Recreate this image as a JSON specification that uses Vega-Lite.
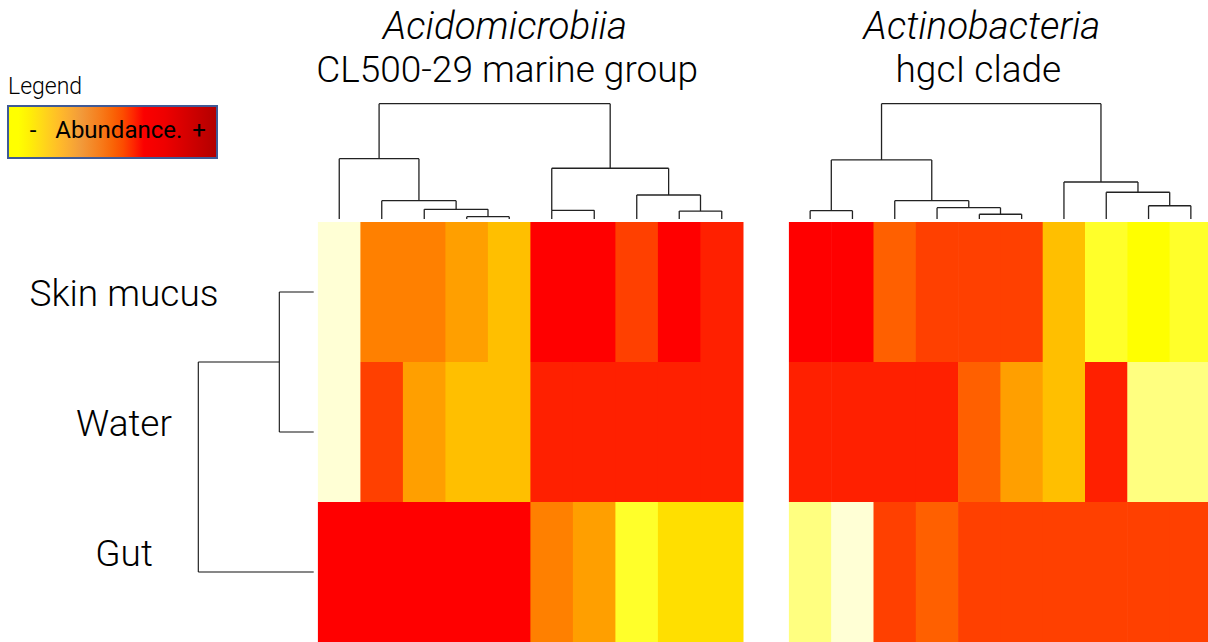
{
  "$schema": "https://vega.github.io/schema/vega-lite/v6.json",
  "width": 1208,
  "height": 642,
  "autosize": "none",
  "padding": 0,
  "background": "white",
  "config": {"axis": {"disable": true}, "view": {"stroke": null}, "font": "Roboto"},
  "datasets": {
    "heatL": [
      {"sample": "Skin mucus", "otu": 1, "level": 1}, {"sample": "Skin mucus", "otu": 2, "level": 8}, {"sample": "Skin mucus", "otu": 3, "level": 8}, {"sample": "Skin mucus", "otu": 4, "level": 7}, {"sample": "Skin mucus", "otu": 5, "level": 6},
      {"sample": "Skin mucus", "otu": 6, "level": 12}, {"sample": "Skin mucus", "otu": 7, "level": 12}, {"sample": "Skin mucus", "otu": 8, "level": 10}, {"sample": "Skin mucus", "otu": 9, "level": 12}, {"sample": "Skin mucus", "otu": 10, "level": 11},
      {"sample": "Water", "otu": 1, "level": 1}, {"sample": "Water", "otu": 2, "level": 10}, {"sample": "Water", "otu": 3, "level": 7}, {"sample": "Water", "otu": 4, "level": 6}, {"sample": "Water", "otu": 5, "level": 6},
      {"sample": "Water", "otu": 6, "level": 11}, {"sample": "Water", "otu": 7, "level": 11}, {"sample": "Water", "otu": 8, "level": 11}, {"sample": "Water", "otu": 9, "level": 11}, {"sample": "Water", "otu": 10, "level": 11},
      {"sample": "Gut", "otu": 1, "level": 12}, {"sample": "Gut", "otu": 2, "level": 12}, {"sample": "Gut", "otu": 3, "level": 12}, {"sample": "Gut", "otu": 4, "level": 12}, {"sample": "Gut", "otu": 5, "level": 12},
      {"sample": "Gut", "otu": 6, "level": 8}, {"sample": "Gut", "otu": 7, "level": 7}, {"sample": "Gut", "otu": 8, "level": 3}, {"sample": "Gut", "otu": 9, "level": 5}, {"sample": "Gut", "otu": 10, "level": 5}
    ],
    "heatR": [
      {"sample": "Skin mucus", "otu": 1, "level": 12}, {"sample": "Skin mucus", "otu": 2, "level": 12}, {"sample": "Skin mucus", "otu": 3, "level": 9}, {"sample": "Skin mucus", "otu": 4, "level": 10}, {"sample": "Skin mucus", "otu": 5, "level": 10},
      {"sample": "Skin mucus", "otu": 6, "level": 10}, {"sample": "Skin mucus", "otu": 7, "level": 6}, {"sample": "Skin mucus", "otu": 8, "level": 3}, {"sample": "Skin mucus", "otu": 9, "level": 4}, {"sample": "Skin mucus", "otu": 10, "level": 3},
      {"sample": "Water", "otu": 1, "level": 11}, {"sample": "Water", "otu": 2, "level": 11}, {"sample": "Water", "otu": 3, "level": 11}, {"sample": "Water", "otu": 4, "level": 11}, {"sample": "Water", "otu": 5, "level": 9},
      {"sample": "Water", "otu": 6, "level": 7}, {"sample": "Water", "otu": 7, "level": 6}, {"sample": "Water", "otu": 8, "level": 11}, {"sample": "Water", "otu": 9, "level": 2}, {"sample": "Water", "otu": 10, "level": 2},
      {"sample": "Gut", "otu": 1, "level": 2}, {"sample": "Gut", "otu": 2, "level": 1}, {"sample": "Gut", "otu": 3, "level": 10}, {"sample": "Gut", "otu": 4, "level": 9}, {"sample": "Gut", "otu": 5, "level": 10},
      {"sample": "Gut", "otu": 6, "level": 10}, {"sample": "Gut", "otu": 7, "level": 10}, {"sample": "Gut", "otu": 8, "level": 10}, {"sample": "Gut", "otu": 9, "level": 10}, {"sample": "Gut", "otu": 10, "level": 10}
    ],
    "dendroL": [
      {"node": "D", "lx": 3.5, "lh": 0, "rx": 4.5, "rh": 0, "h": 0.02},
      {"node": "C", "lx": 2.5, "lh": 0, "rx": 4.0, "rh": 0.02, "h": 0.084},
      {"node": "B", "lx": 1.5, "lh": 0, "rx": 3.25, "rh": 0.084, "h": 0.159},
      {"node": "A", "lx": 0.5, "lh": 0, "rx": 2.375, "rh": 0.159, "h": 0.523},
      {"node": "E", "lx": 5.5, "lh": 0, "rx": 6.5, "rh": 0, "h": 0.075},
      {"node": "G", "lx": 8.5, "lh": 0, "rx": 9.5, "rh": 0, "h": 0.069},
      {"node": "F", "lx": 7.5, "lh": 0, "rx": 9.0, "rh": 0.069, "h": 0.208},
      {"node": "R1", "lx": 5.5, "lh": 0.075, "rx": 8.25, "rh": 0.208, "h": 0.44},
      {"node": "root", "lx": 1.4375, "lh": 0.523, "rx": 6.875, "rh": 0.44, "h": 1.0}
    ],
    "dendroR": [
      {"node": "a", "lx": 0.5, "lh": 0, "rx": 1.5, "rh": 0, "h": 0.072},
      {"node": "d", "lx": 4.5, "lh": 0, "rx": 5.5, "rh": 0, "h": 0.041},
      {"node": "c", "lx": 3.5, "lh": 0, "rx": 5.0, "rh": 0.041, "h": 0.098},
      {"node": "b", "lx": 2.5, "lh": 0, "rx": 4.25, "rh": 0.098, "h": 0.159},
      {"node": "L", "lx": 1.0, "lh": 0.072, "rx": 3.375, "rh": 0.159, "h": 0.512},
      {"node": "g", "lx": 8.5, "lh": 0, "rx": 9.5, "rh": 0, "h": 0.115},
      {"node": "f", "lx": 7.5, "lh": 0, "rx": 9.0, "rh": 0.115, "h": 0.232},
      {"node": "e", "lx": 6.5, "lh": 0, "rx": 8.25, "rh": 0.232, "h": 0.321},
      {"node": "root", "lx": 2.1875, "lh": 0.512, "rx": 7.375, "rh": 0.321, "h": 1.0}
    ],
    "dendroRow": [
      {"node": "inner", "lpos": 0.5, "lh": 0, "rpos": 1.5, "rh": 0, "h": 0.298},
      {"node": "outer", "lpos": 1.0, "lh": 0.298, "rpos": 2.5, "rh": 0, "h": 1.0}
    ],
    "samples": [
      {"sample": "Skin mucus"}, {"sample": "Water"}, {"sample": "Gut"}
    ],
    "legendRange": [
      {"abundance": 0}, {"abundance": 1}
    ]
  },
  "resolve": {"scale": {"x": "independent", "y": "independent"}},
  "layer": [
    {
      "data": {"name": "heatL"},
      "mark": {"type": "rect", "binSpacing": 0, "strokeWidth": 0, "x2Offset": -0.6},
      "encoding": {
        "x": {"field": "otu", "type": "quantitative", "bin": {"binned": true, "step": 1}, "axis": null, "scale": {"domain": [-6.48235, 21.94118], "nice": false, "zero": false}},
        "y": {"field": "sample", "type": "ordinal", "axis": null, "scale": {"type": "band", "domain": ["Skin mucus", "Water", "Gut"], "paddingInner": 0, "paddingOuter": 0.79286, "align": 1, "round": false}},
        "fill": {"field": "level", "type": "ordinal", "legend": null, "scale": {"domain": [1,2,3,4,5,6,7,8,9,10,11,12], "range": ["#FFFFD5","#FFFF80","#FFFF2A","#FFFF00","#FFDF00","#FFBF00","#FF9F00","#FF8000","#FF6000","#FF4000","#FF2000","#FF0000"]}}
      }
    },
    {
      "data": {"name": "heatR"},
      "mark": {"type": "rect", "binSpacing": 0, "strokeWidth": 0, "x2Offset": -0.6},
      "encoding": {
        "x": {"field": "otu", "type": "quantitative", "bin": {"binned": true, "step": 1}, "axis": null, "scale": {"domain": [-17.6525, 10.9054], "nice": false, "zero": false}},
        "y": {"field": "sample", "type": "ordinal", "axis": null, "scale": {"type": "band", "domain": ["Skin mucus", "Water", "Gut"], "paddingInner": 0, "paddingOuter": 0.79286, "align": 1, "round": false}},
        "fill": {"field": "level", "type": "ordinal", "legend": null}
      }
    },
    {
      "data": {"name": "dendroL"},
      "layer": [
        {"mark": {"type": "rule", "color": "#222222", "strokeWidth": 1.3},
         "encoding": {"x": {"field": "lx", "type": "quantitative"}, "x2": {"field": "rx"}, "y": {"field": "h", "type": "quantitative"}}},
        {"mark": {"type": "rule", "color": "#222222", "strokeWidth": 1.3},
         "encoding": {"x": {"field": "lx", "type": "quantitative"}, "y": {"field": "lh", "type": "quantitative"}, "y2": {"field": "h"}}},
        {"mark": {"type": "rule", "color": "#222222", "strokeWidth": 1.3},
         "encoding": {"x": {"field": "rx", "type": "quantitative"}, "y": {"field": "rh", "type": "quantitative"}, "y2": {"field": "h"}}}
      ],
      "encoding": {
        "x": {"type": "quantitative", "axis": null, "scale": {"domain": [-7.48235, 20.94118], "nice": false, "zero": false}},
        "y": {"type": "quantitative", "axis": null, "scale": {"domain": [-3.6687, 1.8994], "nice": false, "zero": false}}
      },
      "resolve": {"scale": {"x": "shared", "y": "shared"}}
    },
    {
      "data": {"name": "dendroR"},
      "layer": [
        {"mark": {"type": "rule", "color": "#222222", "strokeWidth": 1.3},
         "encoding": {"x": {"field": "lx", "type": "quantitative"}, "x2": {"field": "rx"}, "y": {"field": "h", "type": "quantitative"}}},
        {"mark": {"type": "rule", "color": "#222222", "strokeWidth": 1.3},
         "encoding": {"x": {"field": "lx", "type": "quantitative"}, "y": {"field": "lh", "type": "quantitative"}, "y2": {"field": "h"}}},
        {"mark": {"type": "rule", "color": "#222222", "strokeWidth": 1.3},
         "encoding": {"x": {"field": "rx", "type": "quantitative"}, "y": {"field": "rh", "type": "quantitative"}, "y2": {"field": "h"}}}
      ],
      "encoding": {
        "x": {"type": "quantitative", "axis": null, "scale": {"domain": [-18.6525, 9.9054], "nice": false, "zero": false}},
        "y": {"type": "quantitative", "axis": null, "scale": {"domain": [-3.6687, 1.8994], "nice": false, "zero": false}}
      },
      "resolve": {"scale": {"x": "shared", "y": "shared"}}
    },
    {
      "data": {"name": "dendroRow"},
      "layer": [
        {"mark": {"type": "rule", "color": "#111111", "strokeWidth": 1.1},
         "encoding": {"x": {"field": "h", "type": "quantitative"}, "y": {"field": "lpos", "type": "quantitative"}, "y2": {"field": "rpos"}}},
        {"mark": {"type": "rule", "color": "#111111", "strokeWidth": 1.1},
         "encoding": {"x": {"field": "lh", "type": "quantitative"}, "x2": {"field": "h"}, "y": {"field": "lpos", "type": "quantitative"}}},
        {"mark": {"type": "rule", "color": "#111111", "strokeWidth": 1.1},
         "encoding": {"x": {"field": "rh", "type": "quantitative"}, "x2": {"field": "h"}, "y": {"field": "rpos", "type": "quantitative"}}}
      ],
      "encoding": {
        "x": {"type": "quantitative", "axis": null, "scale": {"domain": [-7.7496, 2.71837], "reverse": true, "nice": false, "zero": false}},
        "y": {"type": "quantitative", "axis": null, "scale": {"domain": [-1.585714, 3.0], "reverse": true, "nice": false, "zero": false}}
      },
      "resolve": {"scale": {"x": "shared", "y": "shared"}}
    },
    {
      "data": {"name": "samples"},
      "mark": {"type": "text", "align": "center", "baseline": "alphabetic", "fontSize": 37, "font": "Roboto", "fontWeight": 300, "color": "#000000"},
      "encoding": {
        "text": {"field": "sample"},
        "x": {"datum": 1.6438, "type": "quantitative", "axis": null, "scale": {"domain": [-7.7496, 2.71837], "reverse": true, "nice": false, "zero": false}},
        "y": {"field": "sample", "type": "ordinal", "axis": null, "scale": {"type": "band", "domain": ["Skin mucus", "Water", "Gut"], "paddingInner": 0.054, "paddingOuter": 1, "align": 0.942, "round": false}}
      }
    },
    {
      "data": {"values": [{"title": "Acidomicrobiia"}]},
      "mark": {"type": "text", "align": "center", "baseline": "alphabetic", "fontSize": 38.5, "font": "Roboto", "fontWeight": 300, "fontStyle": "italic", "color": "#000000"},
      "encoding": {
        "text": {"field": "title"},
        "x": {"datum": 4.4, "type": "quantitative", "axis": null, "scale": {"domain": [-7.48235, 20.94118], "nice": false, "zero": false}},
        "y": {"datum": 1.5611, "type": "quantitative", "axis": null, "scale": {"domain": [-3.6687, 1.8994], "nice": false, "zero": false}}
      }
    },
    {
      "data": {"values": [{"title": "CL500-29 marine group"}]},
      "mark": {"type": "text", "align": "center", "baseline": "alphabetic", "fontSize": 37, "font": "Roboto", "fontWeight": 300, "color": "#000000"},
      "encoding": {
        "text": {"field": "title"},
        "x": {"datum": 4.45, "type": "quantitative", "axis": null, "scale": {"domain": [-7.48235, 20.94118], "nice": false, "zero": false}},
        "y": {"datum": 1.1882, "type": "quantitative", "axis": null, "scale": {"domain": [-3.6687, 1.8994], "nice": false, "zero": false}}
      }
    },
    {
      "data": {"values": [{"title": "Actinobacteria"}]},
      "mark": {"type": "text", "align": "center", "baseline": "alphabetic", "fontSize": 38.5, "font": "Roboto", "fontWeight": 300, "fontStyle": "italic", "color": "#000000"},
      "encoding": {
        "text": {"field": "title"},
        "x": {"datum": 4.606, "type": "quantitative", "axis": null, "scale": {"domain": [-18.83055, 10.0], "nice": false, "zero": false}},
        "y": {"datum": 1.5611, "type": "quantitative", "axis": null, "scale": {"domain": [-3.6687, 1.8994], "nice": false, "zero": false}}
      }
    },
    {
      "data": {"values": [{"title": "hgcI clade"}]},
      "mark": {"type": "text", "align": "center", "baseline": "alphabetic", "fontSize": 37, "font": "Roboto", "fontWeight": 300, "color": "#000000"},
      "encoding": {
        "text": {"field": "title"},
        "x": {"datum": 4.52, "type": "quantitative", "axis": null, "scale": {"domain": [-18.83055, 10.0], "nice": false, "zero": false}},
        "y": {"datum": 1.1882, "type": "quantitative", "axis": null, "scale": {"domain": [-3.6687, 1.8994], "nice": false, "zero": false}}
      }
    },
    {
      "data": {"name": "legendRange"},
      "mark": {"type": "point", "opacity": 0},
      "encoding": {
        "color": {
          "field": "abundance", "type": "quantitative",
          "scale": {"domain": [0, 0.06, 0.35, 0.62, 0.75, 1], "range": ["#FFFF00", "#FFFF00", "#F29A3A", "#FF0000", "#EE0000", "#B20000"]},
          "legend": {
            "orient": "none", "legendX": 8, "legendY": 76, "direction": "horizontal", "padding": 0,
            "title": "Legend", "titleFont": "Roboto", "titleFontWeight": 300, "titleFontSize": 23, "titleColor": "#000000", "titlePadding": 7, "titleAnchor": "start",
            "gradientLength": 209, "gradientThickness": 52, "gradientStrokeColor": "#3F5A96", "gradientStrokeWidth": 2,
            "values": [0.12, 0.53, 0.914],
            "labelExpr": "datum.value < 0.3 ? '-' : (datum.value < 0.7 ? 'Abundance.' : '+')",
            "labelFont": "Roboto", "labelFontWeight": 400, "labelFontSize": 24, "labelColor": "#000000",
            "labelAlign": "center", "labelOffset": -39, "labelOverlap": false
          }
        }
      }
    }
  ]
}
